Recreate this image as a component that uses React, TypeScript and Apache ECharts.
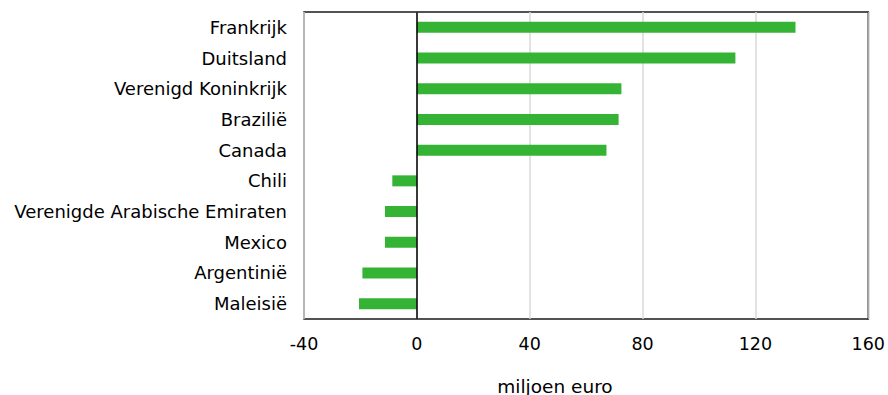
import React, { useEffect, useRef } from "react";
import * as echarts from "echarts";

const categories = [
  "Frankrijk",
  "Duitsland",
  "Verenigd Koninkrijk",
  "Brazilië",
  "Canada",
  "Chili",
  "Verenigde Arabische Emiraten",
  "Mexico",
  "Argentinië",
  "Maleisië",
];
const values = [134.2, 112.9, 72.5, 71.5, 67.2, -8.7, -11.3, -11.3, -19.3, -20.5];
const xTicks = { min: -40, max: 160, interval: 40 };
const axisName = "miljoen euro";

export default function App() {
  const ref = useRef<HTMLDivElement>(null);
  useEffect(() => {
    if (!ref.current) return;
    const chart = echarts.init(ref.current, undefined, { renderer: "svg" });
    chart.setOption({
      animation: false,
      grid: {
        left: 304,
        right: 18,
        top: 12,
        bottom: 76,
        show: true,
        borderColor: "#1a1a1a",
        borderWidth: 1.5,
        containLabel: false,
      },
      xAxis: {
        type: "value",
        min: xTicks.min,
        max: xTicks.max,
        interval: xTicks.interval,
        axisLine: { show: false },
        axisTick: { show: false },
        splitLine: { show: true, lineStyle: { color: "#d9d9d9", width: 1.5 } },
        axisLabel: {
          color: "#000",
          fontFamily: "DejaVu Sans",
          fontSize: 17.5,
          margin: 16,
        },
      },
      yAxis: {
        type: "category",
        data: categories,
        inverse: true,
        axisLine: { show: false },
        axisTick: { show: false },
        splitLine: { show: false },
        axisLabel: {
          color: "#000",
          fontFamily: "DejaVu Sans",
          fontSize: 18,
          margin: 17,
        },
      },
      graphic: [
        {
          type: "text",
          x: 555,
          y: 386,
          style: {
            text: axisName,
            fill: "#000",
            font: "18.5px 'DejaVu Sans'",
            textAlign: "center",
            textVerticalAlign: "middle",
          },
        },
      ],
      series: [
        {
          type: "bar",
          data: values,
          barWidth: 11,
          itemStyle: { color: "#34b334" },
          markLine: {
            silent: true,
            symbol: "none",
            label: { show: false },
            lineStyle: { color: "#000", type: "solid", width: 1.5 },
            data: [{ xAxis: 0 }],
          },
        },
      ],
    });
    return () => chart.dispose();
  }, []);
  return (
    <div
      ref={ref}
      style={{ position: "absolute", left: 0, top: 0, width: 888, height: 395 }}
    />
  );
}
